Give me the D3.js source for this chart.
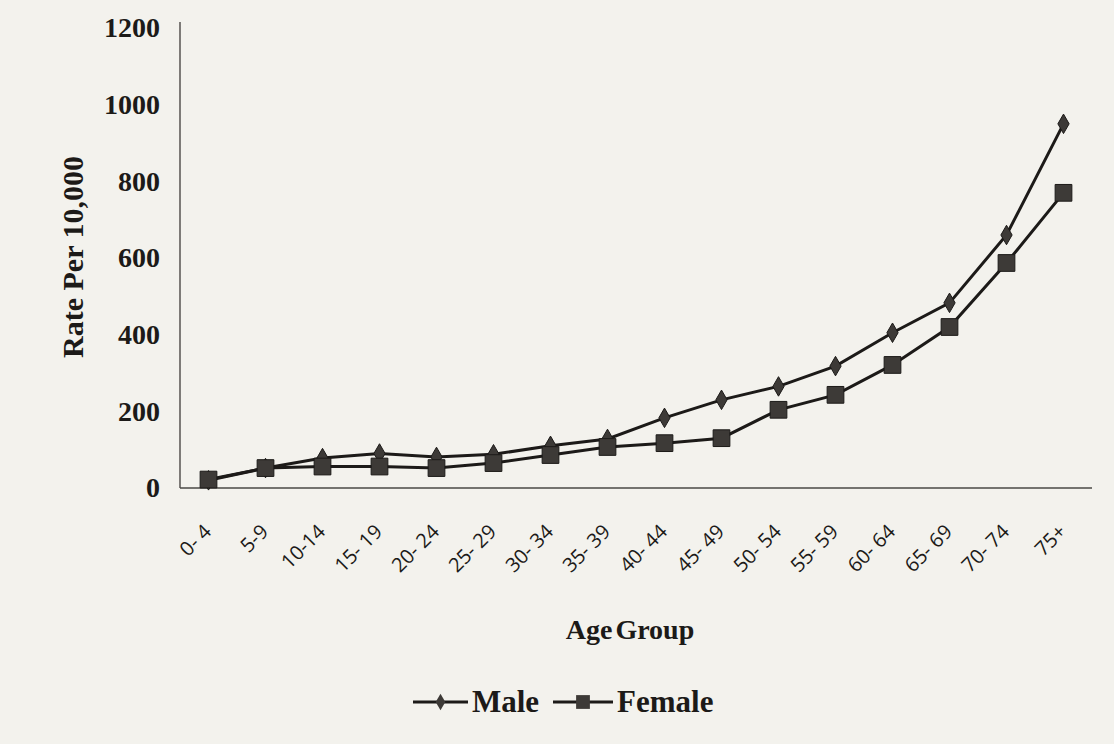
<!DOCTYPE html>
<html lang="en">
<head>
<meta charset="UTF-8">
<title>Rate per 10,000 by age group</title>
<script src="https://d3js.org/d3.v7.min.js"></script>
<style>
  body { margin: 0; background: #f3f2ed; }
  svg { display: block; }
</style>
</head>
<body>
<script>

const ageGroups = ["0- 4", "5-9", "10-14", "15- 19", "20- 24", "25- 29", "30- 34", "35- 39",
                   "40- 44", "45- 49", "50- 54", "55- 59", "60- 64", "65- 69", "70- 74", "75+"];
const maleRates = [20, 52, 78, 90, 81, 88, 110, 128, 183, 230, 265, 318, 405, 483, 660, 950];
const femaleRates = [22, 52, 56, 56, 52, 65, 86, 107, 117, 130, 204, 243, 321, 420, 587, 770];
const yTicks = [0, 200, 400, 600, 800, 1000, 1200];

const w = 1114;
const h = 744;
const plotLeft = 180, plotRight = 1092, plotTop = 28, plotBottom = 488;
const ink = "#1c1a18";
const serif = "'Liberation Serif', 'Times New Roman', serif";

const svg = d3.select("body")
              .append("svg")
              .attr("width", w)
              .attr("height", h);

const xScale = d3.scaleBand()
                 .domain(ageGroups)
                 .range([plotLeft, plotRight]);

const yScale = d3.scaleLinear()
                 .domain([0, 1200])
                 .range([plotBottom, plotTop]);

const cx = (d) => xScale(d) + xScale.bandwidth() / 2;

// axes: plain lines, no tick marks
svg.append("g")
   .attr("transform", "translate(" + plotLeft + ",0)")
   .call(d3.axisLeft(yScale).tickValues(yTicks).tickFormat(d3.format("d")).tickSize(0).tickPadding(20))
   .call(g => g.select(".domain").attr("stroke", "#4a4845").attr("stroke-width", 1.4)
               .attr("d", "M0," + (plotTop - 6) + "V" + plotBottom))
   .call(g => g.selectAll("text")
               .attr("font-family", serif)
               .attr("font-weight", "bold")
               .attr("font-size", 28)
               .attr("fill", ink));

svg.append("g")
   .attr("transform", "translate(0," + plotBottom + ")")
   .call(d3.axisBottom(xScale).tickSize(0).tickFormat(""))
   .call(g => g.select(".domain").attr("stroke", "#4a4845").attr("stroke-width", 1.4)
               .attr("d", "M" + plotLeft + ",0H" + plotRight));

svg.append("g")
   .selectAll("text")
   .data(ageGroups)
   .enter()
   .append("text")
   .text((d) => d)
   .attr("transform", (d) => "translate(" + (cx(d) + 4) + "," + (plotBottom + 45) + ") rotate(-45)")
   .attr("text-anchor", "end")
   .attr("font-family", "'Open Sans', 'Liberation Sans', sans-serif")
   .attr("font-size", 20)
   .attr("fill", ink);

// axis titles
svg.append("text")
   .text("Rate Per 10,000")
   .attr("transform", "translate(83,257) rotate(-90)")
   .attr("text-anchor", "middle")
   .attr("font-family", serif)
   .attr("font-weight", "bold")
   .attr("font-size", 30)
   .attr("fill", ink);

svg.append("text")
   .text("Age Group")
   .attr("x", 630)
   .attr("y", 639)
   .attr("text-anchor", "middle")
   .attr("word-spacing", -4)
   .attr("font-family", serif)
   .attr("font-weight", "bold")
   .attr("font-size", 28)
   .attr("fill", ink);

// series
const series = [
  { name: "Male", values: maleRates, symbol: d3.symbolDiamond, size: 110 },
  { name: "Female", values: femaleRates, symbol: d3.symbolSquare, size: 280 }
];

const line = d3.line()
               .x((d, i) => cx(ageGroups[i]))
               .y((d) => yScale(d));

series.forEach((s) => {
  svg.append("path")
     .datum(s.values)
     .attr("d", line)
     .attr("fill", "none")
     .attr("stroke", ink)
     .attr("stroke-width", 3);

  svg.append("g")
     .selectAll("path")
     .data(s.values)
     .enter()
     .append("path")
     .attr("d", d3.symbol().type(s.symbol).size(s.size))
     .attr("transform", (d, i) => "translate(" + cx(ageGroups[i]) + "," + yScale(d) + ")")
     .attr("fill", "#3d3a37")
     .attr("stroke", ink)
     .attr("stroke-width", 1);
});

// legend
const legendItems = [
  { s: series[0], x: 413, len: 55 },
  { s: series[1], x: 553, len: 60 }
];

legendItems.forEach((it) => {
  const g = svg.append("g").attr("transform", "translate(" + it.x + ",702)");
  g.append("line")
   .attr("x1", 0).attr("x2", it.len)
   .attr("stroke", ink)
   .attr("stroke-width", 3);
  g.append("path")
   .attr("d", d3.symbol().type(it.s.symbol).size(it.s.symbol === d3.symbolSquare ? 190 : 80))
   .attr("transform", "translate(" + (it.len / 2) + ",0)")
   .attr("fill", "#3d3a37");
  g.append("text")
   .text(it.s.name)
   .attr("x", it.len + 4)
   .attr("y", 10)
   .attr("font-family", serif)
   .attr("font-weight", "bold")
   .attr("font-size", 31)
   .attr("fill", ink);
});

</script>
</body>
</html>
